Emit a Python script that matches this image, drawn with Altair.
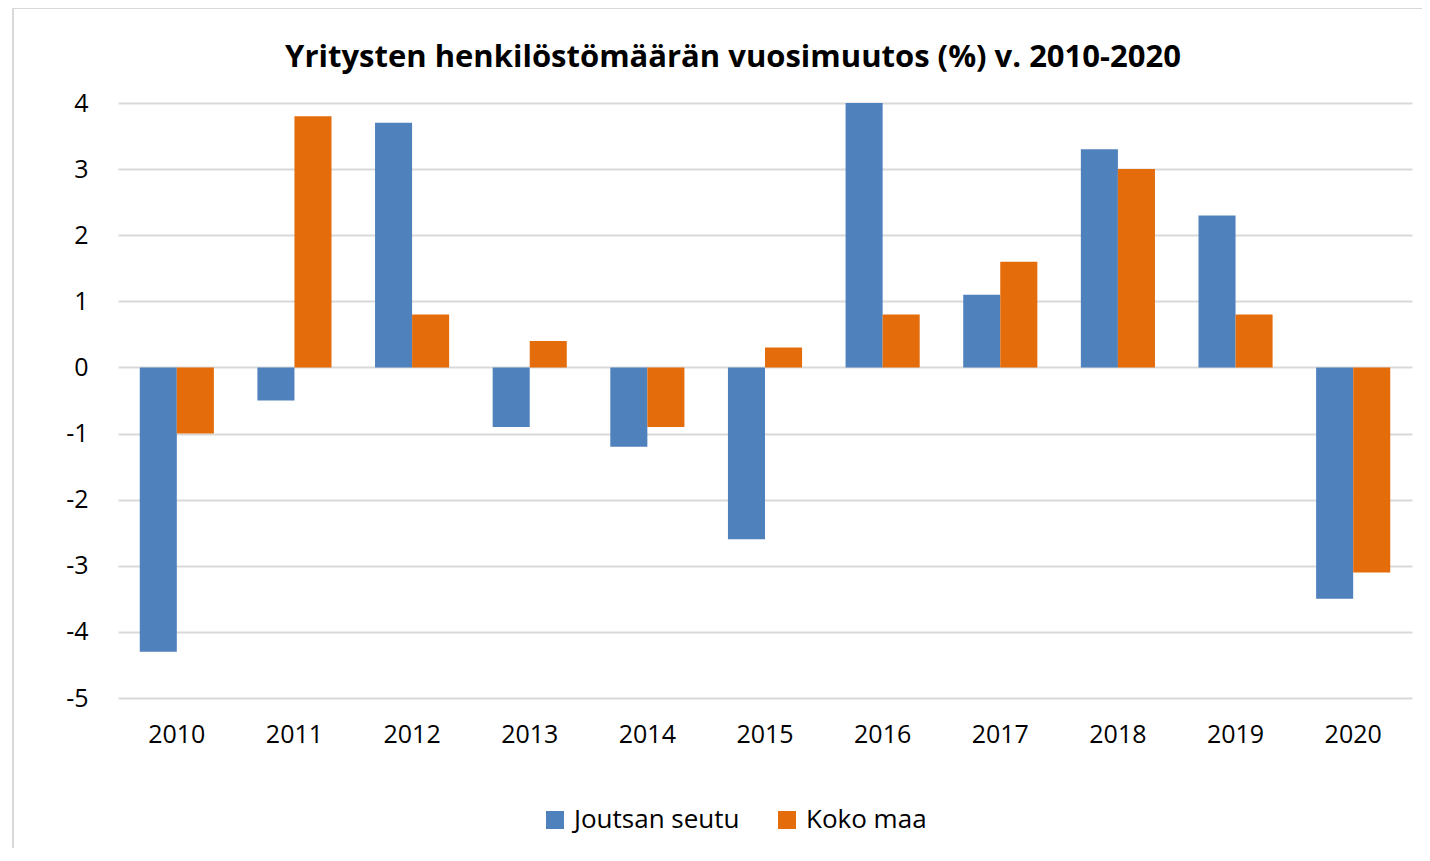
import altair as alt
import pandas as pd

years = ["2010", "2011", "2012", "2013", "2014", "2015", "2016", "2017", "2018", "2019", "2020"]
joutsa = [-4.3, -0.5, 3.7, -0.9, -1.2, -2.6, 4.0, 1.1, 3.3, 2.3, -3.5]
koko = [-1.0, 3.8, 0.8, 0.4, -0.9, 0.3, 0.8, 1.6, 3.0, 0.8, -3.1]
series = ["Joutsan seutu", "Koko maa"]
colors = ["#4F81BD", "#E46C0A"]
y_ticks = [4, 3, 2, 1, 0, -1, -2, -3, -4, -5]

rows = []
for i, yr in enumerate(years):
    rows.append({"Vuosi": yr, "Sarja": series[0], "Arvo": joutsa[i]})
    rows.append({"Vuosi": yr, "Sarja": series[1], "Arvo": koko[i]})
df = pd.DataFrame(rows)

FONT = "Open Sans"
W, H = 1294, 595

bars = alt.Chart(df).mark_bar(strokeWidth=0).encode(
    x=alt.X("Vuosi:N", sort=years,
            scale=alt.Scale(paddingInner=0.37, paddingOuter=0.185),
            axis=alt.Axis(title=None, labelAngle=0, ticks=False, domain=False,
                          labelPadding=24, labelFontSize=25, labelFont=FONT,
                          labelColor="#000000", grid=False)),
    xOffset=alt.XOffset("Sarja:N", sort=series, scale=alt.Scale(paddingInner=0, paddingOuter=0)),
    y=alt.Y("Arvo:Q", scale=alt.Scale(domain=[-5, 4], nice=False, zero=False),
            axis=alt.Axis(title=None, values=y_ticks, ticks=False, domain=False,
                          labelPadding=30, labelFontSize=25, labelFont=FONT,
                          labelExpr="'' + datum.value",
                          labelColor="#000000", gridColor="#D9D9D9", gridWidth=2)),
    color=alt.Color("Sarja:N", sort=series,
                    scale=alt.Scale(domain=series, range=colors),
                    legend=alt.Legend(title=None, orient="none", direction="horizontal",
                                      legendX=424, legendY=704,
                                      symbolType="square", symbolSize=324,
                                      symbolStrokeWidth=0, symbolOpacity=1,
                                      labelFontSize=26, labelFont=FONT, labelLimit=400,
                                      labelColor="#000000", labelOffset=6,
                                      columnPadding=34)),
)

frame_data = alt.Data(values=[{"k": 1}])
left_line = alt.Chart(frame_data).mark_rule(color="#D9D9D9", strokeWidth=2).encode(
    x=alt.value(-105), y=alt.value(-95), y2=alt.value(H + 170))
top_line = alt.Chart(frame_data).mark_rule(color="#D9D9D9", strokeWidth=2).encode(
    x=alt.value(-105), x2=alt.value(W + 40), y=alt.value(-95))

chart = alt.layer(bars, left_line, top_line).properties(
    width=W, height=H,
    title=alt.TitleParams("Yritysten henkilöstömäärän vuosimuutos (%) v. 2010-2020",
                          font=FONT, fontSize=31, fontWeight="bold", color="#000000",
                          anchor="middle", dx=-32, offset=0, dy=67),
    autosize=alt.AutoSizeParams(type="none"),
    padding={"left": 110, "top": 95, "right": 10, "bottom": 150},
).configure(background="white").configure_view(stroke=None)

chart.save("out.html", embed_options={"renderer": "svg", "actions": False})
